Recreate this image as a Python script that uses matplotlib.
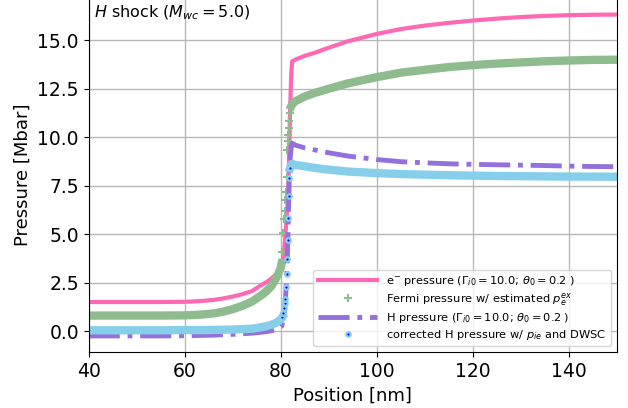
import numpy as np
import matplotlib.pyplot as plt

# positions [nm] shared by all series (dense around the shock front)
position = [40, 45, 50, 55, 60, 62, 64, 66, 68, 70, 72, 74, 76, 77, 78, 79, 79.5, 80.0,
            80.2, 80.35, 80.55, 80.7, 80.8, 80.9, 81.05, 81.25, 81.4, 81.5, 81.6, 81.7,
            81.8, 81.95, 82.2, 82.4,
            83, 85, 87, 90, 94, 100, 105, 110, 115, 120, 125, 130, 135, 140, 145, 150]

# electron pressure [Mbar]
p_e = [1.5, 1.5, 1.5, 1.5, 1.51, 1.53, 1.56, 1.61, 1.68, 1.78, 1.9, 2.06, 2.38, 2.52, 2.7, 2.92, 3.08, 3.3,
       3.45, 3.55, 3.8, 4.1, 4.4, 4.7, 5.2, 5.8, 6.4, 7.0, 7.6, 8.4,
       9.6, 11.3, 13.3, 13.92,
       14.0, 14.2, 14.35, 14.62, 14.95, 15.33, 15.58, 15.76, 15.9, 16.02, 16.12, 16.2, 16.26, 16.3, 16.32, 16.33]

# Fermi pressure with estimated p_e^ex
p_fermi = [0.8, 0.8, 0.8, 0.8, 0.81, 0.83, 0.86, 0.91, 1.0, 1.13, 1.3, 1.52, 1.85, 2.05, 2.3, 2.7, 2.95, 3.25,
           3.5, 4.09, 5.05, 5.76, 6.2, 6.76, 7.2, 7.97, 9.35, 9.8, 10.1, 10.47,
           10.85, 11.25, 11.6, 11.7,
           11.85, 12.1, 12.28, 12.5, 12.78, 13.1, 13.33, 13.48, 13.62, 13.72, 13.8, 13.86, 13.92, 13.96, 13.99, 14.0]

# H pressure
p_h = [-0.25, -0.25, -0.25, -0.25, -0.24, -0.23, -0.22, -0.21, -0.19, -0.17, -0.14, -0.11, -0.06, -0.03, 0.01, 0.08, 0.13, 0.2,
       0.25, 0.4, 0.6, 0.85, 1.1, 1.4, 1.9, 2.8, 3.8, 4.8, 5.9, 7.0,
       7.9, 8.8, 9.5, 9.69,
       9.6, 9.45, 9.35, 9.2, 9.03, 8.85, 8.74, 8.68, 8.63, 8.6, 8.58, 8.56, 8.54, 8.51, 8.49, 8.48]

# corrected H pressure with p_ie and DWSC
p_h_corr = [0.04, 0.04, 0.04, 0.04, 0.05, 0.05, 0.05, 0.06, 0.07, 0.08, 0.1, 0.12, 0.2, 0.25, 0.32, 0.42, 0.5, 0.6,
            0.66, 0.72, 0.93, 1.21, 1.45, 1.68, 2.25, 2.92, 3.74, 4.69, 5.81, 6.97,
            7.88, 8.4, 8.6, 8.62,
            8.58, 8.5, 8.42, 8.33, 8.23, 8.15, 8.1, 8.07, 8.04, 8.02, 8.0, 7.99, 7.98, 7.97, 7.97, 7.96]

x = np.array(position)
p_fermi = np.array(p_fermi)
p_h_corr = np.array(p_h_corr)

# inside the shock the sample points are sparse, so only markers are seen there
shock = (x >= 80.3) & (x <= 82.0)
green_band = np.where((x <= 80.2) | (x >= 82.0), p_fermi, np.nan)
blue_band = np.where((x <= 80.35) | (x >= 81.95), p_h_corr, np.nan)

fig = plt.figure(figsize=(6.28, 4.08), dpi=100)
ax = fig.add_axes([0.1412, 0.1373, 0.8408, 0.8664])

ax.grid(True, color='#b8b8b8', linewidth=1.0)

# e- pressure
ax.plot(x, p_e, color='hotpink', lw=3,
        label=r'e$^{-}$ pressure ($\Gamma_{i0}=10.0$; $\theta_0=0.2$ )')

# Fermi pressure: dense markers show up as a thick band
ax.plot(x, green_band, color='darkseagreen', lw=6)
ax.plot(x[shock], p_fermi[shock], '+', color='darkseagreen', ms=6, mew=1.5,
        label=r'Fermi pressure w/ estimated $p_e^{ex}$')

# H pressure
ax.plot(x, p_h, color='mediumpurple', lw=3.5, ls='-.',
        label=r'H pressure ($\Gamma_{i0}=10.0$; $\theta_0=0.2$ )')

# corrected H pressure
ax.plot(x, blue_band, color='skyblue', lw=6)
ax.plot(x[shock], p_h_corr[shock], 'o', ms=3.2, mfc='blue', mec='skyblue', mew=1.6,
        label=r'corrected H pressure w/ $p_{ie}$ and DWSC')

ax.set_xlim(40, 150)
ax.set_xticks([40, 60, 80, 100, 120, 140])
ax.set_yticks([0.0, 2.5, 5.0, 7.5, 10.0, 12.5, 15.0])
ax.tick_params(labelsize=13.5)
ax.set_xlabel('Position [nm]', fontsize=13)
ax.set_ylabel('Pressure [Mbar]', fontsize=13)

ax.text(0.01, 0.985, r'$H$ shock ($M_{wc}=5.0$)', transform=ax.transAxes,
        va='top', ha='left', fontsize=11.5)

ax.legend(loc='lower right', fontsize=8.2, handlelength=5.2, labelspacing=0.25)

fig.savefig('out.png', dpi=100)
